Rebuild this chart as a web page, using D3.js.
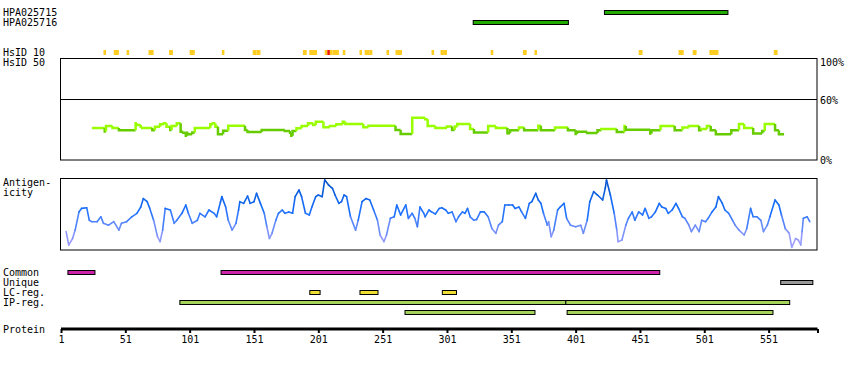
<!DOCTYPE html>
<html>
<head>
<meta charset="utf-8">
<script src="https://cdn.jsdelivr.net/npm/d3@7"></script>
<style>
    body { margin: 0; background: #fff; }
    text { font-family: "DejaVu Sans Mono", monospace; font-size: 10px; fill: #000; }
</style>
</head>
<body>
<div id="chart"></div>
<script>
// --- data ---
const proteinLength = 589;
const tickLabels = [1, 51, 101, 151, 201, 251, 301, 351, 401, 451, 501, 551];

const antibodies = ["HPA025715", "HPA025716"];
const antibodyRanges = [[423, 519], [321, 395]];

// HsID 10 hits: [start, end, isRed]
const hsid10 = [[34,35,0],[42,45,0],[52,53,0],[69,72,0],[85,87,0],[101,104,0],[126,127,0],[150,152,0],[153,155,0],
    [189,191,0],[194,199,0],[206,207,0],[208,209,1],[210,211,0],[212,216,0],[220,221,0],[233,234,0],[237,240,0],[241,242,0],
    [254,255,0],[261,265,0],[289,290,0],[296,297,0],[298,300,0],[335,336,0],[360,362,0],[369,370,0],[450,452,0],
    [481,484,0],[492,494,0],[505,506,0],[507,511,0],[555,557,0]];

// HsID 50 (percent), step breakpoints
const hsidRes = [25,35,36,41,46,59,60,63,64,72,74,78,81,83,86,87,91,94,96,98,99,100,103,105,117,119,121,123,127,131,
    144,146,157,175,179,180,181,184,188,193,197,199,205,210,215,220,222,236,240,261,265,274,284,286,292,301,305,307,309,319,
    322,333,339,348,350,357,361,372,374,385,395,401,402,410,418,421,433,439,440,459,460,467,478,484,489,497,499,503,506,510,
    522,528,532,539,546,548,556,559,563];
const hsidVal = [31.5,28,33.5,31.5,29.2,36.1,34.5,32.8,31.5,29.2,32.8,35.1,36.1,32.8,29.6,33.5,36.1,27.9,26.9,24,26.9,25.3,27.2,31.5,35.1,36.1,32.8,25.3,28.9,33.8,
    29.6,27.6,29.6,28.6,26.9,24,28.6,31.2,33.5,36.1,34.5,37.8,32.2,33.5,35.1,37.8,35.5,32.2,33.8,29.6,25.6,41.7,40.1,33.5,31.5,33,29.6,33,35.5,30.5,
    27.2,33.5,31.5,26.3,29.2,31.9,29.2,33.8,29.2,31.9,29.2,25.6,27.9,26.6,29.2,30.5,27.6,33.5,29.9,26,29.2,33.5,29.2,31.9,33.5,29.2,30.5,33.5,29.2,25.3,
    29.2,35.5,31.5,26,28.6,35.5,29.2,25.3,25.3];

// Antigenicity (0 = panel bottom, 100 = panel top)
const agRes = [5,7,10,12,15,17,21,23,25,29,32,34,38,42,46,48,52,56,60,63,65,68,70,73,76,78,80,82,86,89,91,95,98,100,103,107,109,113,116,120,
    122,125,126,129,131,134,137,139,140,143,146,148,151,153,156,159,161,163,165,168,170,173,175,178,181,183,186,188,191,194,196,199,201,204,206,209,212,214,217,219,
    221,223,226,230,232,235,238,241,244,247,249,252,254,257,260,262,265,269,271,274,276,278,280,283,284,
    287,289,292,295,297,300,302,305,308,310,313,315,317,319,322,324,327,330,333,336,339,341,344,346,349,352,354,357,359,362,365,367,370,372,374,376,379,380,382,384,
    387,389,392,394,397,401,405,407,410,412,415,418,422,424,425,428,431,433,434,437,440,442,445,447,450,453,455,458,460,463,466,468,471,473,476,479,481,484,486,489,
    491,494,497,499,502,504,507,510,512,515,517,520,523,525,528,532,534,537,539,542,545,547,550,552,556,559,561,564,567,569,572,574,576,577,578,581,583];
const agVal = [24.8,5.7,15,27,53,58,59,41,39,39,46,36.7,34,39,27,36.7,39,46,51,60,72,67.6,58,41,17.6,10.5,27,58,55.7,36.7,41,51,62.9,51,36.7,41,51,46,55.7,51,
    46,67.6,74.8,60,41,27,36.7,55.7,67.6,65.2,75.7,65.2,67.6,79.5,65.2,51,31.9,15,22.4,41,51,55.7,51,53,51,74.8,84.3,74.8,51,48.6,60,74.8,77.1,74.8,98.6,91.4,86.7,77.1,65.2,67.6,
    77.1,74.8,46,27,41,67.6,72,70,55.7,41,20,10.5,20,43.8,46,62.9,48.6,62.9,43.8,51,43.8,31.9,60,51,46,
    55.7,53,50,58,59,55.7,51,53,39,46,53,51,58,46,41,42,53,53,46,29,22.4,34,39,62.9,62.9,62.9,58,60,53,43.8,65.2,67.6,79.5,70,65.2,51,34,39,17.6,27,
    55.7,60,65.2,43.8,34,31.9,34,22.4,41,67.6,81.9,77.1,70,86.7,98.6,77.1,51,27,10.5,12.9,34,43.8,53,41,53,48.6,58,43.8,46,53,65.2,60,58,51,55.7,65.2,58,46,43.8,34,
    24.8,34,24.8,41,39,43.8,53,60,74.8,65.2,55.7,51,41,34,27,20,29,58,46,46,41,24.8,34,46,70,62.9,48.6,29,22.4,2.4,15,12.9,5.7,24.8,43.8,46,39];

// Feature rows
const commonRanges = [[6, 27], [125, 466]];
const uniqueRanges = [[560, 585]];
const lcRanges = [[194, 202], [233, 247], [297, 308]];
const ipRanges1 = [[93, 393], [393, 567]];
const ipRanges2 = [[268, 369], [394, 554]];

const width = 850, height = 370;
const svg = d3.select("#chart").append("svg").attr("width", width).attr("height", height);

const x = d3.scaleLinear().domain([1, proteinLength]).range([61, 817.5]);

function label(txt, xx, yy) {
    svg.append("text").attr("x", xx).attr("y", yy).text(txt);
}

function bars(ranges, cy, fill) {
    svg.append("g").selectAll("rect").data(ranges).enter().append("rect")
        .attr("x", d => x(d[0]) + 0.5).attr("y", cy - 2)
        .attr("width", d => x(d[1]) - x(d[0])).attr("height", 4)
        .attr("fill", fill).attr("stroke", "#000").attr("stroke-width", 1);
}

// --- antibodies ---
label(antibodies[0], 3, 16);
label(antibodies[1], 3, 26);
bars([antibodyRanges[0]], 12.5, "#22aa00");
bars([antibodyRanges[1]], 22.5, "#22aa00");

// --- HsID ---
label("HsID 10", 3, 55.5);
label("HsID 50", 3, 65.5);

svg.append("g").selectAll("rect").data(hsid10).enter().append("rect")
    .attr("x", d => x(d[0])).attr("y", 50)
    .attr("width", d => Math.max(2, x(d[1] + 1) - x(d[0])))
    .attr("height", 5)
    .attr("fill", d => d[2] ? "#ee1100" : "#ffcc22");

const yH = d3.scaleLinear().domain([0, 100]).range([160, 58.5]);
svg.append("rect").attr("x", 60.5).attr("y", 58.5).attr("width", 756.5).attr("height", 101.5)
    .attr("fill", "none").attr("stroke", "#000");
svg.append("line").attr("x1", 60.5).attr("x2", 817).attr("y1", Math.round(yH(60)) + 0.5).attr("y2", Math.round(yH(60)) + 0.5)
    .attr("stroke", "#000");
label("100%", 820, 65.5);
label("60%", 820, 104);
label("0%", 820, 164);

const hsGroup = svg.append("g");
hsidRes.forEach((r, i) => {
    if (i === hsidRes.length - 1) return;
    const v = hsidVal[i];
    const col = v >= 30 ? "#99ff00" : "#66cc00";
    const pts = [];
    if (i > 0) pts.push([x(r), yH(hsidVal[i - 1])]);
    pts.push([x(r), yH(v)], [x(hsidRes[i + 1]), yH(v)]);
    hsGroup.append("path").attr("d", d3.line()(pts))
        .attr("fill", "none").attr("stroke", col).attr("stroke-width", 2.5);
});

// --- Antigenicity ---
label("Antigen-", 3, 186);
label("icity", 3, 196);
const yA = d3.scaleLinear().domain([0, 100]).range([249, 179]);
svg.append("rect").attr("x", 60.5).attr("y", 178.5).attr("width", 756.5).attr("height", 71.5)
    .attr("fill", "none").attr("stroke", "#000");

const agColor = d3.scaleLinear().domain([0, 30, 55, 100]).range(["#b4a4ff", "#6f8ef8", "#1a70ff", "#0050c4"]);
const agGroup = svg.append("g");
for (let i = 0; i < agRes.length - 1; i++) {
    const pts = [[x(agRes[i]), yA(agVal[i])], [x(agRes[i + 1]), yA(agVal[i + 1])]];
    agGroup.append("path").attr("d", d3.line()(pts))
        .attr("fill", "none").attr("stroke-width", 1.6).attr("stroke-linecap", "round")
        .attr("stroke", agColor((agVal[i] + agVal[i + 1]) / 2));
}

// --- feature rows ---
label("Common", 3, 276);
label("Unique", 3, 286);
label("LC-reg.", 3, 296);
label("IP-reg.", 3, 306);
bars(commonRanges, 272.5, "#cc22aa");
bars(uniqueRanges, 282.5, "#999999");
bars(lcRanges, 292.5, "#eedd33");
bars(ipRanges1, 302.5, "#a3d35a");
bars(ipRanges2, 312.5, "#a3d35a");

// --- protein axis ---
label("Protein", 3, 333);
const axis = d3.axisBottom(x).tickValues(tickLabels.concat([proteinLength])).tickSize(4).tickPadding(3)
    .tickFormat(d => d === proteinLength ? "" : d);
const ax = svg.append("g").attr("transform", "translate(0,329)").call(axis);
ax.select(".domain").attr("stroke-width", 3).attr("d", `M${x(1)},0H${x(proteinLength)}`);
ax.selectAll(".tick line").attr("stroke-width", 2);
ax.selectAll(".tick text").style("font-family", "DejaVu Sans Mono").style("font-size", "10px").attr("fill", "#000");
</script>
</body>
</html>
